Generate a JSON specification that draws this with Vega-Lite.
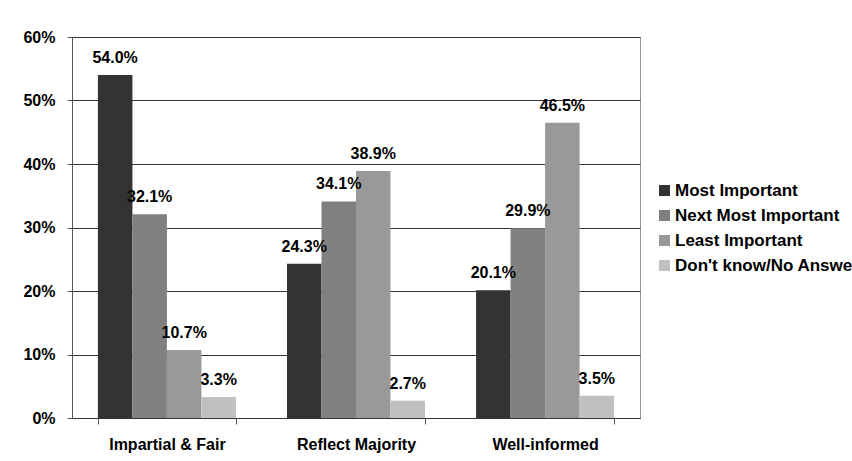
{
  "$schema": "https://vega.github.io/schema/vega-lite/v6.json",
  "width": 568,
  "height": 381,
  "autosize": {"type": "none"},
  "padding": {"left": 72, "top": 37, "right": 212, "bottom": 43},
  "background": "white",
  "config": {
    "font": "Liberation Sans",
    "view": {"stroke": "#999999", "strokeWidth": 1}
  },
  "data": {
    "values": [
      {"category": "Impartial & Fair", "series": "Most Important", "value": 0.540},
      {"category": "Impartial & Fair", "series": "Next Most Important", "value": 0.321},
      {"category": "Impartial & Fair", "series": "Least Important", "value": 0.107},
      {"category": "Impartial & Fair", "series": "Don't know/No Answer", "value": 0.033},
      {"category": "Reflect Majority", "series": "Most Important", "value": 0.243},
      {"category": "Reflect Majority", "series": "Next Most Important", "value": 0.341},
      {"category": "Reflect Majority", "series": "Least Important", "value": 0.389},
      {"category": "Reflect Majority", "series": "Don't know/No Answer", "value": 0.027},
      {"category": "Well-informed", "series": "Most Important", "value": 0.201},
      {"category": "Well-informed", "series": "Next Most Important", "value": 0.299},
      {"category": "Well-informed", "series": "Least Important", "value": 0.465},
      {"category": "Well-informed", "series": "Don't know/No Answer", "value": 0.035}
    ]
  },
  "encoding": {
    "x": {
      "field": "category",
      "type": "nominal",
      "sort": ["Impartial & Fair", "Reflect Majority", "Well-informed"],
      "scale": {"paddingInner": 0.27, "paddingOuter": 0.137},
      "axis": {
        "title": null,
        "labelAngle": 0,
        "labelFont": "Liberation Sans",
        "labelFontWeight": "bold",
        "labelFontSize": 16,
        "labelColor": "#000000",
        "labelPadding": 12,
        "tickBand": "extent",
        "tickSize": 6,
        "tickColor": "#555555",
        "domainColor": "#333333",
        "grid": false
      }
    },
    "xOffset": {
      "field": "series",
      "type": "nominal",
      "sort": ["Most Important", "Next Most Important", "Least Important", "Don't know/No Answer"],
      "scale": {"paddingInner": 0, "paddingOuter": 0}
    },
    "y": {
      "field": "value",
      "type": "quantitative",
      "scale": {"domain": [0, 0.6], "nice": false},
      "axis": {
        "title": null,
        "format": ".0%",
        "values": [0, 0.1, 0.2, 0.3, 0.4, 0.5, 0.6],
        "labelFont": "Liberation Sans",
        "labelFontWeight": "bold",
        "labelFontSize": 16,
        "labelColor": "#000000",
        "labelPadding": 12,
        "tickSize": 5,
        "tickColor": "#555555",
        "domainColor": "#555555",
        "grid": true,
        "gridColor": "#333333",
        "gridOpacity": 1,
        "gridWidth": 1
      }
    }
  },
  "layer": [
    {
      "mark": {"type": "bar"},
      "encoding": {
        "color": {
          "field": "series",
          "type": "nominal",
          "sort": ["Most Important", "Next Most Important", "Least Important", "Don't know/No Answer"],
          "scale": {
            "domain": ["Most Important", "Next Most Important", "Least Important", "Don't know/No Answer"],
            "range": ["#333333", "#808080", "#999999", "#c0c0c0"]
          },
          "legend": {
            "title": null,
            "orient": "none",
            "legendX": 584,
            "legendY": 145,
            "symbolType": "square",
            "symbolSize": 121,
            "symbolStrokeWidth": 0,
            "symbolOpacity": 1,
            "labelFont": "Liberation Sans",
            "labelFontWeight": "bold",
            "labelFontSize": 17,
            "labelColor": "#000000",
            "labelOffset": 2,
            "labelLimit": 400,
            "rowPadding": 7
          }
        }
      }
    },
    {
      "mark": {
        "type": "text",
        "baseline": "alphabetic",
        "dy": -12,
        "font": "Liberation Sans",
        "fontWeight": "bold",
        "fontSize": 16,
        "color": "#000000"
      },
      "encoding": {
        "text": {"field": "value", "type": "quantitative", "format": ".1%"}
      }
    }
  ]
}
